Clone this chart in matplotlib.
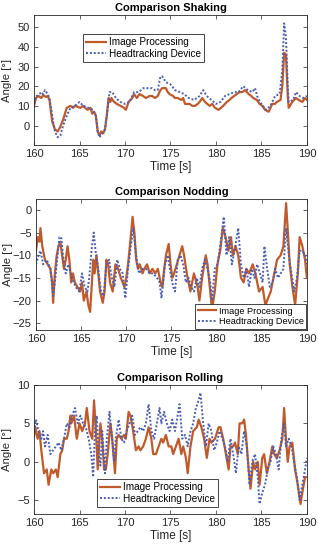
import numpy as np
import matplotlib
matplotlib.use("Agg")
import matplotlib.pyplot as plt

plt.rcParams['font.family'] = ['Liberation Sans', 'DejaVu Sans']

# (time [s], angle [deg])
shake_img = [(160.0,10),(160.2,14),(160.5,15),(160.8,14),(161.0,15.5),(161.3,14.5),(161.5,15),(161.7,13),
             (162.0,2),(162.3,-2),(162.6,-3),(162.85,-1),(163.2,3),(163.6,9),(164.0,10),(164.3,9),(164.5,10),
             (164.8,9.5),(165.1,9),(165.4,10),(165.6,9),(165.9,8),(166.2,9),(166.4,6),(166.6,7),(166.8,5),
             (167.0,-3),(167.2,-5),(167.4,-3),(167.6,-4),(167.8,-2),(168.0,5),(168.2,14),(168.4,12),(168.5,14),
             (168.8,12),(169.1,11),(169.5,10),(169.9,9),(170.1,8),(170.4,12),(170.8,14),(171.0,16),(171.3,14),
             (171.6,16),(172.0,15),(172.3,14),(172.7,15),(173.0,15),(173.3,14),(173.6,15),(173.9,18),(174.1,19),
             (174.5,19),(174.7,17),(174.9,16),(175.3,15),(175.5,14),(175.8,14),(176.2,13),(176.4,14),(176.6,11),
             (177.1,11),(177.4,10),(177.7,10),(178.0,11),(178.2,12),(178.5,14),(178.8,12),(179.3,10),(179.6,11),
             (179.9,9),(180.3,8),(180.8,10),(181.2,12),(181.5,13),(181.7,14),(182.0,15),(182.3,16),(182.6,17),
             (182.9,17),(183.2,18),(183.6,16),(183.9,15),(184.1,14),(184.5,13),(184.8,11),(185.1,10),(185.4,8),
             (185.8,7),(186.2,11),(186.5,11),(186.7,12),(187.1,13),(187.3,20),(187.5,37),(187.7,36),(187.9,15),
             (188.0,9),(188.4,12),(188.8,14),(189.1,13),(189.5,12),(189.8,14),(190.0,13)]
shake_head = [(160.0,11),(160.3,15),(160.6,16),(160.8,17),(161.0,16),(161.2,18),(161.5,16),(161.7,14),(162.0,5),
              (162.3,-3),(162.6,-6),(162.9,-5),(163.2,0),(163.6,5),(164.0,9),(164.5,10),(165.0,12),(165.4,10),
              (166.0,9),(166.5,8),(166.8,5),(167.0,-3),(167.2,-6),(167.5,-4),(167.8,-2),(168.0,5),(168.3,17),
              (168.6,17),(169.0,14),(169.5,12),(170.0,11),(170.5,12),(171.0,17),(171.5,17),(172.0,19),(173.0,19),
              (173.3,18),(173.6,18),(173.9,25),(174.1,25),(174.5,22),(175.0,21),(175.5,18),(176.0,17),(176.5,16),
              (177.0,14),(177.6,13),(178.2,15),(178.6,18),(179.0,15),(179.5,13),(180.0,11),(180.5,12),(181.0,15),
              (181.5,16),(182.0,17),(182.5,17),(183.0,20),(183.5,18),(184.0,17),(184.3,19),(184.6,14),(185.0,11),
              (185.5,8),(186.0,10),(186.5,15),(187.0,16),(187.3,28),(187.5,52),(187.7,45),(187.9,20),(188.0,12),
              (188.5,13),(188.8,17),(189.2,15),(189.6,14),(190.0,15)]

nod_img = [(160.0,-9),(160.2,-6),(160.4,-7),(160.5,-4),(160.7,-8),(161.0,-11),(161.3,-12),(161.6,-13),(161.8,-16),
           (161.9,-20.5),(162.1,-14),(162.3,-10),(162.5,-8),(162.7,-7),(162.9,-10),(163.1,-13),(163.3,-11),
           (163.5,-8),(163.7,-11),(163.9,-16),(164.1,-14),(164.3,-16),(164.6,-17),(164.9,-18),(165.1,-16),
           (165.3,-20),(165.6,-18),(165.8,-21),(166.0,-22.5),(166.2,-16),(166.35,-11),(166.5,-14),(166.7,-10),
           (166.9,-14),(167.1,-18),(167.4,-20.5),(167.6,-18),(167.8,-11),(168.0,-12),(168.2,-16),(168.5,-18),
           (168.8,-12),(169.1,-13),(169.4,-15),(169.6,-16),(169.8,-17),(170.0,-15),(170.2,-12),(170.5,-6),
           (170.7,-1.5),(170.9,-5),(171.1,-11),(171.3,-13),(171.5,-12),(171.8,-14),(172.0,-13),(172.3,-12),
           (172.6,-14),(172.9,-13),(173.2,-14),(173.5,-13),(173.8,-16),(174.0,-17),(174.2,-13),(174.4,-10),
           (174.7,-7.5),(174.9,-12),(175.1,-15),(175.3,-14),(175.6,-12),(175.9,-10),(176.2,-8),(176.4,-10),
           (176.7,-14),(177.1,-18),(177.5,-14),(177.9,-17),(178.1,-20),(178.4,-15),(178.8,-10),(179.0,-12),
           (179.3,-18),(179.5,-22),(179.8,-18),(180.1,-12),(180.4,-9),(180.7,-4),(181.0,-6),(181.3,-9),
           (181.6,-6),(181.8,-10),(182.1,-8),(182.4,-10),(182.7,-15),(183.0,-16),(183.3,-13),(183.6,-14),
           (184.0,-12),(184.3,-14),(184.7,-18),(185.1,-17),(185.4,-21),(185.6,-20),(186.0,-18),(186.4,-14),
           (186.7,-11),(187.1,-10),(187.4,-8),(187.7,1.5),(187.9,-5),(188.1,-12),(188.4,-17),(188.7,-21),
           (189.0,-14),(189.2,-6),(189.5,-8),(189.8,-11),(190.0,-15)]
nod_head = [(160.0,-12),(160.3,-10),(160.5,-9),(160.8,-12),(161.2,-11),(161.6,-13),(161.9,-19),(162.1,-16),
            (162.4,-10),(162.6,-6),(162.8,-6),(163.0,-10),(163.3,-14),(163.6,-12),(164.0,-15),(164.4,-17),
            (164.8,-18),(165.1,-14),(165.4,-17),(165.7,-18),(165.9,-15),(166.2,-8),(166.4,-5),(166.6,-9),
            (166.9,-13),(167.2,-18),(167.5,-19),(167.8,-12),(168.1,-11),(168.4,-15),(168.7,-17),(169.0,-11),
            (169.3,-13),(169.6,-14),(169.9,-19.5),(170.2,-13),(170.5,-8),(170.8,-4),(171.1,-10),(171.4,-14),
            (171.8,-13),(172.2,-13),(172.6,-14),(173.0,-14),(173.4,-15),(173.7,-16),(173.9,-19.5),(174.3,-12),
            (174.6,-10),(174.9,-14),(175.2,-17),(175.4,-18),(175.7,-11),(176.0,-10),(176.3,-12),(176.6,-16),
            (176.9,-15),(177.2,-17),(177.5,-18),(177.8,-15),(178.1,-17),(178.4,-13),(178.7,-11),(179.0,-13),
            (179.3,-16),(179.5,-20),(179.8,-13),(180.1,-12),(180.4,-8),(180.8,-1.5),(181.1,-10),(181.4,-6),
            (181.7,-12),(182.0,-9),(182.4,-4),(182.7,-12),(183.0,-15),(183.3,-13),(183.6,-17),(183.9,-13),
            (184.2,-15),(184.5,-12),(184.8,-14),(185.1,-16),(185.3,-8),(185.6,-13),(185.9,-17),(186.2,-16),
            (186.5,-13),(186.8,-15),(187.1,-14),(187.4,-13),(187.7,-4),(188.0,-10),(188.3,-14),(188.6,-18),
            (188.9,-15),(189.2,-9),(189.5,-9),(189.8,-10),(190.0,-12)]

roll_img = [(160.0,3.3),(160.15,4.5),(160.4,3),(160.6,4),(160.8,1.5),(161.1,-1.5),(161.4,-1),(161.6,-3),
            (161.9,-1),(162.1,-1.5),(162.4,-1),(162.6,-2),(162.9,1),(163.1,1.5),(163.3,3),(163.6,3),(163.8,4),
            (164.0,6),(164.1,5),(164.4,6),(164.7,3),(165.0,5),(165.3,4),(165.6,5),(165.8,7),(166.1,4),(166.4,3),
            (166.6,8),(166.85,3),(167.0,-1),(167.3,5),(167.5,3),(167.7,-1),(167.9,-1),(168.1,1),(168.4,5),
            (168.6,3),(168.9,-1.5),(169.1,3),(169.3,3.5),(169.6,3),(169.9,3.5),(170.1,3),(170.4,6.5),(170.6,6),
            (170.9,4),(171.2,1.5),(171.5,2),(171.7,1.5),(172.0,2),(172.3,3),(172.6,4.5),(172.9,3),(173.1,1),
            (173.4,1),(173.7,2),(174.0,3),(174.2,2.5),(174.5,3.5),(174.8,2),(175.1,2),(175.3,1),(175.6,2),
            (175.9,3),(176.2,1),(176.4,2),(176.7,0.5),(176.9,-1.5),(177.2,2),(177.5,4),(177.9,4.5),(178.1,5.5),
            (178.4,4.5),(178.7,3),(179.0,0.5),(179.3,3),(179.5,2.5),(179.9,3),(180.3,4.5),(180.5,4.5),(180.8,3),
            (181.1,1),(181.4,-1),(181.6,2),(181.9,2),(182.1,2.5),(182.4,1),(182.6,5),(182.9,5),(183.1,5.5),
            (183.3,3.5),(183.6,-1),(183.8,-3.5),(184.1,0),(184.3,-1),(184.6,0),(184.8,-3),(185.1,0.5),(185.3,1),
            (185.6,-1.5),(185.9,0),(186.2,2),(186.4,1),(186.7,0.5),(187.0,1.5),(187.3,3),(187.5,7),(187.7,3),
            (187.9,0),(188.1,2),(188.4,2.5),(188.7,-1),(189.0,-3),(189.3,-5.5),(189.5,-4),(189.8,-2),(190.0,-2)]
roll_head = [(160.0,4),(160.2,5.5),(160.5,4),(160.8,3),(161.0,4),(161.2,2),(161.5,3.5),(161.8,1),(162.1,1.5),
             (162.4,2),(162.7,2.5),(163.0,1.5),(163.3,3),(163.6,5),(163.9,4.5),(164.2,6),(164.5,7),(164.8,5),
             (165.1,6),(165.4,5),(165.7,4.5),(166.0,3),(166.3,1),(166.5,-2),(166.7,4),(166.9,6),(167.1,1),
             (167.3,-0.5),(167.5,4),(167.8,-1.5),(168.0,3),(168.3,6.5),(168.5,4),(168.8,0),(169.0,3),(169.3,5.5),
             (169.6,3),(169.9,2.5),(170.2,4),(170.5,5),(170.8,6),(171.1,3.5),(171.4,4),(171.7,4.5),(172.0,4),
             (172.3,5),(172.6,7.5),(172.9,4),(173.2,3),(173.5,5),(173.8,7),(174.0,5),(174.3,6.5),(174.6,5),
             (174.9,4),(175.2,5.5),(175.5,4),(176.0,7.5),(176.3,3),(176.6,3.5),(176.9,2),(177.2,4),(177.5,5),
             (177.8,7),(178.1,8),(178.3,9),(178.6,5),(178.9,2),(179.2,5),(179.5,4),(179.8,1.5),(180.1,2.5),
             (180.4,4),(180.7,3),(181.0,2),(181.3,0),(181.6,3),(181.9,1),(182.2,-1.5),(182.5,2),(182.8,1),
             (183.1,4),(183.4,2),(183.7,-3),(184.0,0),(184.3,1),(184.6,-2),(184.8,-5.5),(185.1,-4),(185.4,-3),
             (185.7,-1),(186.0,0),(186.3,2),(186.6,1),(186.9,-1),(187.2,3),(187.5,5),(187.7,2),(188.0,3),
             (188.3,2),(188.6,0),(188.9,-2),(189.2,-5),(189.5,-3),(189.8,-1),(190.0,0.5)]

titles = ["Comparison Shaking", "Comparison Nodding", "Comparison Rolling"]
yticks = [[0, 10, 20, 30, 40, 50], [0, -5, -10, -15, -20, -25], [-5, 0, 5, 10]]
ylims = [(-10, 56), (-26.5, 2.4), (-6.8, 10)]
xticks = [160, 165, 170, 175, 180, 185, 190]

c_img = '#C05A2B'
c_head = '#4B5EB5'
dark = '#262626'

fig = plt.figure(figsize=(3.18, 5.5), dpi=100)
boxes = [[0.107, 0.736, 0.858, 0.236], [0.113, 0.400, 0.852, 0.238], [0.107, 0.0655, 0.858, 0.2345]]
data = [(shake_img, shake_head), (nod_img, nod_head), (roll_img, roll_head)]
legs = [dict(loc='upper left', bbox_to_anchor=(0.172, 0.87), fontsize=7.2),
        dict(loc='lower right', bbox_to_anchor=(1.005, -0.005), fontsize=6.6),
        dict(loc='lower left', bbox_to_anchor=(0.222, 0.04), fontsize=7.2)]
ylab_x = [-0.08, -0.083, -0.08]

for i in range(3):
    ax = fig.add_axes(boxes[i])
    img = np.array(data[i][0]).T
    head = np.array(data[i][1]).T
    ax.plot(img[0], img[1], color=c_img, lw=1.6, label='Image Processing')
    ax.plot(head[0], head[1], color=c_head, lw=1.4, ls=(0, (1, 1)), label='Headtracking Device')
    ax.set_xlim(160, 190)
    ax.set_ylim(*ylims[i])
    ax.set_xticks(xticks)
    ax.set_yticks(yticks[i])
    ax.tick_params(direction='in', top=True, right=True, length=3, width=0.5,
                   labelsize=8, colors=dark, pad=3)
    for s in ax.spines.values():
        s.set_linewidth(0.6)
        s.set_color(dark)
    ax.set_title(titles[i], fontsize=8, fontweight='bold', pad=3)
    ax.set_xlabel('Time [s]', fontsize=8.5, color=dark, labelpad=1)
    ax.set_ylabel('Angle [°]', fontsize=8.2, color=dark)
    ax.yaxis.set_label_coords(ylab_x[i], 0.5)
    lg = ax.legend(handlelength=2.0, borderpad=0.3, labelspacing=0.15, handletextpad=0.3,
                   fancybox=False, framealpha=1, borderaxespad=0.2, **legs[i])
    lg.get_frame().set_edgecolor(dark)
    lg.get_frame().set_linewidth(0.6)

fig.savefig('out.png', dpi=100)
